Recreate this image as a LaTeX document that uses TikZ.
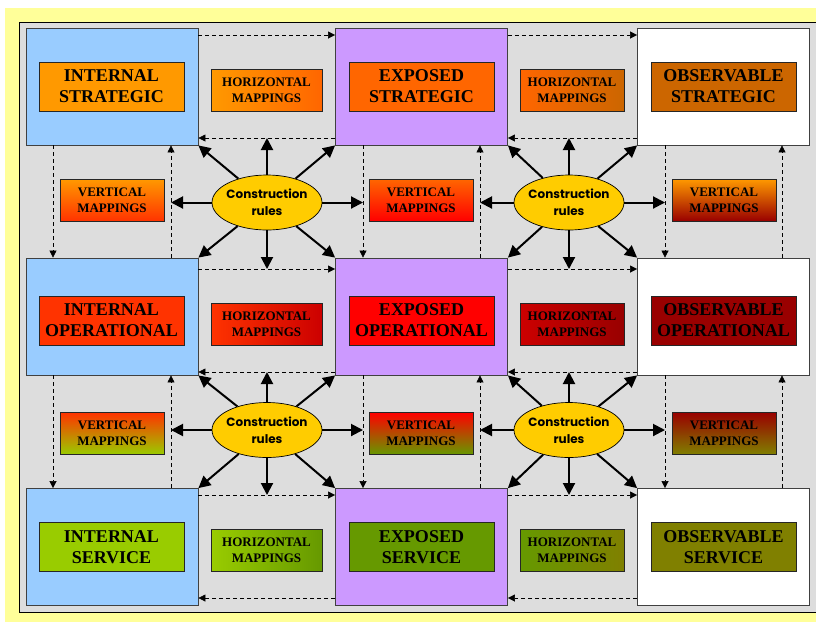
\documentclass[tikz,border=0pt]{standalone}
\usepackage{fontspec}
\setmainfont{Liberation Serif}
\newfontfamily\rulesfont{Poppins}
\usepackage{tikz}
\usetikzlibrary{positioning}
\usetikzlibrary{shapes.geometric}
\usetikzlibrary{arrows.meta}

\definecolor{yellowbg}{HTML}{FFFF99}
\definecolor{panelgray}{HTML}{DDDDDD}
\definecolor{intblue}{HTML}{99CCFF}
\definecolor{exppurple}{HTML}{CC99FF}
\definecolor{rulesyellow}{HTML}{FFCC00}
\definecolor{cA}{HTML}{FF9900}
\definecolor{cB}{HTML}{FF6600}
\definecolor{cC}{HTML}{CC6600}
\definecolor{cD}{HTML}{FF3300}
\definecolor{cE}{HTML}{FF0000}
\definecolor{cF}{HTML}{990000}
\definecolor{cG}{HTML}{99CC00}
\definecolor{cH}{HTML}{669900}
\definecolor{cI}{HTML}{808000}
\definecolor{cDark}{HTML}{CC0000}

\tikzset{
    bigbox/.style={draw=black!75, line width=0.8pt, minimum width=172pt, minimum height=117pt, inner sep=0pt},
    labelbox/.style={draw=black!85, line width=0.8pt, minimum width=145pt, minimum height=49pt, inner sep=0pt, align=center, font=\fontsize{18}{21}\selectfont\bfseries},
    mapbox/.style={draw=black!85, line width=0.7pt, minimum width=104pt, minimum height=42pt, inner sep=0pt, align=center, font=\fontsize{13}{16}\selectfont\bfseries},
    rulesnode/.style={ellipse, draw=black, line width=0.7pt, fill=rulesyellow, minimum width=110pt, minimum height=55pt, inner xsep=-8pt, inner ysep=0pt, align=center, font=\rulesfont\fontsize{12}{17}\selectfont\bfseries},
    dasharrow/.style={dash pattern=on 4pt off 3pt, line width=0.6pt, -{Triangle[length=7pt,width=7pt]}},
    rulearrow/.style={line width=2pt, -{Triangle[length=12pt,width=12pt]}}
}

\begin{document}
\begin{tikzpicture} [x = 1pt, y = -1pt]
    \useasboundingbox (0,0) rectangle (816,622);
    \fill [yellowbg] (5,8) rectangle (816,622);
    \fill [panelgray] (19,22) rectangle (816,612);
    \draw [line width = 0.8pt] (816,22)--(19,22)--(19,612)--(816,612);

    \node [bigbox, fill = intblue] (intstr) at (112,86.5) {};
    \node [bigbox, fill = exppurple] (expstr) at (421.5,86.5) {};
    \node [bigbox, fill = white] (obsstr) at (723.5,86.5) {};
    \node [bigbox, fill = intblue] (intop) at (112,316.5) {};
    \node [bigbox, fill = exppurple] (expop) at (421.5,316.5) {};
    \node [bigbox, fill = white] (obsop) at (723.5,316.5) {};
    \node [bigbox, fill = intblue] (intsrv) at (112,547) {};
    \node [bigbox, fill = exppurple] (expsrv) at (421.5,547) {};
    \node [bigbox, fill = white] (obssrv) at (723.5,547) {};

    \node [labelbox, fill = cA] (intstrlab) at (111.5,86.5) {INTERNAL\\STRATEGIC};
    \node [labelbox, fill = cB] (expstrlab) at (421.5,86.5) {EXPOSED\\STRATEGIC};
    \node [labelbox, fill = cC] (obsstrlab) at (723.5,86.5) {OBSERVABLE\\STRATEGIC};
    \node [labelbox, fill = cD] (intoplab) at (111.5,320.5) {INTERNAL\\OPERATIONAL};
    \node [labelbox, fill = cE] (expoplab) at (421.5,320.5) {EXPOSED\\OPERATIONAL};
    \node [labelbox, fill = cF] (obsoplab) at (723.5,320.5) {OBSERVABLE\\OPERATIONAL};
    \node [labelbox, fill = cG] (intsrvlab) at (111.5,547) {INTERNAL\\SERVICE};
    \node [labelbox, fill = cH] (expsrvlab) at (421.5,547) {EXPOSED\\SERVICE};
    \node [labelbox, fill = cI] (obssrvlab) at (723.5,547) {OBSERVABLE\\SERVICE};

    \node [mapbox, minimum width = 111pt, left color = cA, right color = cB] (hmapa) at (266.5,90) {HORIZONTAL\\MAPPINGS};
    \node [mapbox, left color = cB, right color = cC] (hmapb) at (572,90) {HORIZONTAL\\MAPPINGS};
    \node [mapbox, minimum width = 111pt, left color = cD, right color = cDark] (hmapc) at (266.5,324) {HORIZONTAL\\MAPPINGS};
    \node [mapbox, left color = cDark, right color = cF] (hmapd) at (572,324) {HORIZONTAL\\MAPPINGS};
    \node [mapbox, minimum width = 111pt, left color = cG, right color = cH] (hmape) at (266.5,550.5) {HORIZONTAL\\MAPPINGS};
    \node [mapbox, left color = cH, right color = cI] (hmapf) at (572,550.5) {HORIZONTAL\\MAPPINGS};

    \node [mapbox, top color = cA, bottom color = cD] (vmapa) at (112,200) {VERTICAL\\MAPPINGS};
    \node [mapbox, top color = cB, bottom color = cE] (vmapb) at (421,200) {VERTICAL\\MAPPINGS};
    \node [mapbox, top color = cA, bottom color = cF] (vmapc) at (724,200) {VERTICAL\\MAPPINGS};
    \node [mapbox, top color = cD, bottom color = cG] (vmapd) at (112,433.5) {VERTICAL\\MAPPINGS};
    \node [mapbox, top color = cE, bottom color = cH] (vmape) at (421,433.5) {VERTICAL\\MAPPINGS};
    \node [mapbox, top color = cF, bottom color = cI] (vmapf) at (724,433.5) {VERTICAL\\MAPPINGS};

    \node [rulesnode] (rulesa) at (267,202.5) {Construction\\rules};
    \node [rulesnode] (rulesb) at (569,202.5) {Construction\\rules};
    \node [rulesnode] (rulesc) at (267,430) {Construction\\rules};
    \node [rulesnode] (rulesd) at (569,430) {Construction\\rules};

    \coordinate (rowat) at (0,35);
    \coordinate (rowab) at (0,138);
    \coordinate (rowbt) at (0,269);
    \coordinate (rowbb) at (0,372);
    \coordinate (rowct) at (0,495);
    \coordinate (rowcb) at (0,598);
    \coordinate (colad) at (53,0);
    \coordinate (colau) at (171,0);
    \coordinate (colbd) at (363,0);
    \coordinate (colbu) at (480,0);
    \coordinate (colcd) at (665,0);
    \coordinate (colcu) at (782,0);

    \draw [dasharrow] (intstr.east |- rowat)--(expstr.west |- rowat);
    \draw [dasharrow] (expstr.west |- rowab)--(intstr.east |- rowab);
    \draw [dasharrow] (expstr.east |- rowat)--(obsstr.west |- rowat);
    \draw [dasharrow] (obsstr.west |- rowab)--(expstr.east |- rowab);
    \draw [dasharrow] (intop.east |- rowbt)--(expop.west |- rowbt);
    \draw [dasharrow] (expop.west |- rowbb)--(intop.east |- rowbb);
    \draw [dasharrow] (expop.east |- rowbt)--(obsop.west |- rowbt);
    \draw [dasharrow] (obsop.west |- rowbb)--(expop.east |- rowbb);
    \draw [dasharrow] (intsrv.east |- rowct)--(expsrv.west |- rowct);
    \draw [dasharrow] (expsrv.west |- rowcb)--(intsrv.east |- rowcb);
    \draw [dasharrow] (expsrv.east |- rowct)--(obssrv.west |- rowct);
    \draw [dasharrow] (obssrv.west |- rowcb)--(expsrv.east |- rowcb);

    \draw [dasharrow] (colad |- intstr.south)--(colad |- intop.north);
    \draw [dasharrow] (colau |- intop.north)--(colau |- intstr.south);
    \draw [dasharrow] (colbd |- expstr.south)--(colbd |- expop.north);
    \draw [dasharrow] (colbu |- expop.north)--(colbu |- expstr.south);
    \draw [dasharrow] (colcd |- obsstr.south)--(colcd |- obsop.north);
    \draw [dasharrow] (colcu |- obsop.north)--(colcu |- obsstr.south);
    \draw [dasharrow] (colad |- intop.south)--(colad |- intsrv.north);
    \draw [dasharrow] (colau |- intsrv.north)--(colau |- intop.south);
    \draw [dasharrow] (colbd |- expop.south)--(colbd |- expsrv.north);
    \draw [dasharrow] (colbu |- expsrv.north)--(colbu |- expop.south);
    \draw [dasharrow] (colcd |- obsop.south)--(colcd |- obssrv.north);
    \draw [dasharrow] (colcu |- obssrv.north)--(colcu |- obsop.south);

    \draw [rulearrow] (rulesa)--(rulesa |- rowab);
    \draw [rulearrow] (rulesa)--(rulesa |- rowbt);
    \draw [rulearrow] (rulesa)--(rulesa -| colau);
    \draw [rulearrow] (rulesa)--(rulesa -| colbd);
    \draw [rulearrow] (rulesa)--(intstr.south east);
    \draw [rulearrow] (rulesa)--(expstr.south west);
    \draw [rulearrow] (rulesa)--(intop.north east);
    \draw [rulearrow] (rulesa)--(expop.north west);

    \draw [rulearrow] (rulesb)--(rulesb |- rowab);
    \draw [rulearrow] (rulesb)--(rulesb |- rowbt);
    \draw [rulearrow] (rulesb)--(rulesb -| colbu);
    \draw [rulearrow] (rulesb)--(rulesb -| colcd);
    \draw [rulearrow] (rulesb)--(expstr.south east);
    \draw [rulearrow] (rulesb)--(obsstr.south west);
    \draw [rulearrow] (rulesb)--(expop.north east);
    \draw [rulearrow] (rulesb)--(obsop.north west);

    \draw [rulearrow] (rulesc)--(rulesc |- rowbb);
    \draw [rulearrow] (rulesc)--(rulesc |- rowct);
    \draw [rulearrow] (rulesc)--(rulesc -| colau);
    \draw [rulearrow] (rulesc)--(rulesc -| colbd);
    \draw [rulearrow] (rulesc)--(intop.south east);
    \draw [rulearrow] (rulesc)--(expop.south west);
    \draw [rulearrow] (rulesc)--(intsrv.north east);
    \draw [rulearrow] (rulesc)--(expsrv.north west);

    \draw [rulearrow] (rulesd)--(rulesd |- rowbb);
    \draw [rulearrow] (rulesd)--(rulesd |- rowct);
    \draw [rulearrow] (rulesd)--(rulesd -| colbu);
    \draw [rulearrow] (rulesd)--(rulesd -| colcd);
    \draw [rulearrow] (rulesd)--(expop.south east);
    \draw [rulearrow] (rulesd)--(obsop.south west);
    \draw [rulearrow] (rulesd)--(expsrv.north east);
    \draw [rulearrow] (rulesd)--(obssrv.north west);
  \end{tikzpicture}
\end{document}
